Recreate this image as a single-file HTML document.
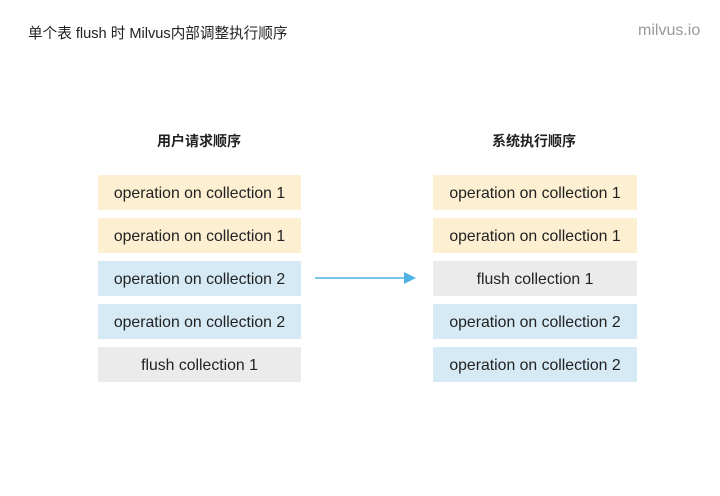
<!DOCTYPE html>
<html><head><meta charset="utf-8"><style>
body{margin:0;width:720px;height:496px;background:#fff;position:relative;font-family:"Liberation Sans","Noto Sans CJK SC",sans-serif;color:#222;overflow:hidden}
.t{position:absolute;font-size:14px}
.b{position:absolute;height:35px;line-height:37px;text-align:center;font-size:15.8px;color:#222}
.y{background:#fcefd2}.u{background:#d5eaf5}.g{background:#ebebeb}
.l{left:98px;width:203px}.r{left:433px;width:204px}
</style></head><body>
<div class="t" style="left:28px;top:22px;font-size:14.6px">单个表 flush 时 Milvus内部调整执行顺序</div>
<div class="t" style="left:638px;top:22px;color:#999;font-size:16px">milvus.io</div>
<div class="t" style="left:157px;top:131px;font-weight:bold">用户请求顺序</div>
<div class="t" style="left:492px;top:131px;font-weight:bold">系统执行顺序</div>
<div class="b l y" style="top:175px">operation on collection 1</div>
<div class="b l y" style="top:218px">operation on collection 1</div>
<div class="b l u" style="top:261px">operation on collection 2</div>
<div class="b l u" style="top:304px">operation on collection 2</div>
<div class="b l g" style="top:347px">flush collection 1</div>
<div class="b r y" style="top:175px">operation on collection 1</div>
<div class="b r y" style="top:218px">operation on collection 1</div>
<div class="b r g" style="top:261px">flush collection 1</div>
<div class="b r u" style="top:304px">operation on collection 2</div>
<div class="b r u" style="top:347px">operation on collection 2</div>
<svg style="position:absolute;left:0;top:0" width="720" height="496">
<line x1="315" y1="278" x2="405" y2="278" stroke="#4fb3e3" stroke-width="1.5"/>
<polygon points="404,272 416,278 404,284" fill="#4fb3e3"/>
</svg>
</body></html>
